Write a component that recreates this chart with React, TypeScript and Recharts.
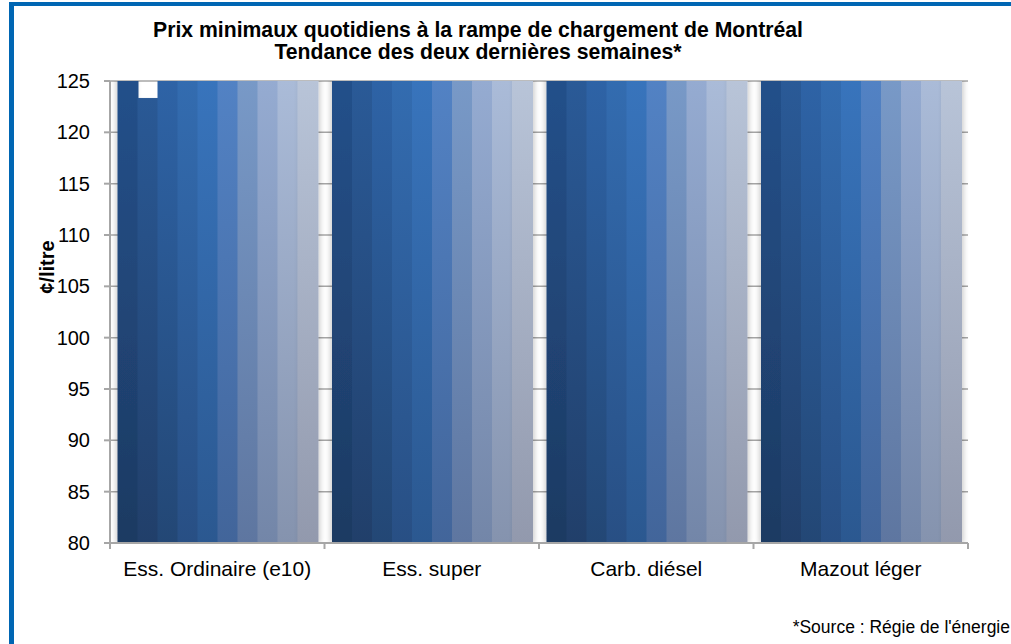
import React from "react";
import { BarChart, Bar, XAxis, YAxis, CartesianGrid } from "recharts";

const categories = ["Ess. Ordinaire (e10)", "Ess. super", "Carb. diésel", "Mazout léger"];
const days = ["Jour 1", "Jour 2", "Jour 3", "Jour 4", "Jour 5", "Jour 6", "Jour 7", "Jour 8", "Jour 9", "Jour 10"];

// prices in ¢/litre, most of them run past the top of the axis
const essOrdinaire = [128.4, 123.3, 127.9, 128.6, 129.1, 128.2, 127.5, 128.8, 129.3, 128.9];
const essSuper = [141.2, 140.1, 140.8, 141.5, 142.0, 141.1, 140.4, 141.7, 142.2, 141.8];
const carbDiesel = [136.5, 135.8, 136.1, 136.9, 137.4, 136.6, 135.9, 137.0, 137.6, 137.2];
const mazoutLeger = [133.1, 132.4, 132.8, 133.5, 134.0, 133.2, 132.6, 133.7, 134.2, 133.9];

const yTicks = [80, 85, 90, 95, 100, 105, 110, 115, 120, 125];

const topColors = ["#24508a", "#2a5a97", "#2e63a6", "#336cb0", "#3874bc", "#5282c4", "#7899c7", "#95abd1", "#aabbd8", "#b8c4d8"];
const bottomColors = ["#1d3a62", "#213f6a", "#234775", "#284f84", "#2b5890", "#42659a", "#5e76a0", "#7386a8", "#8593ae", "#9299ad"];

const byCategory = [essOrdinaire, essSuper, carbDiesel, mazoutLeger];
const data = categories.map((name, i) => {
  const row: Record<string, string | number> = { name };
  days.forEach((_, d) => {
    row[`d${d}`] = byCategory[i][d];
  });
  return row;
});

const W = 1011;
const H = 644;
const PLOT_LEFT = 110;
const PLOT_RIGHT = 968;
const PLOT_TOP = 81;
const PLOT_BOTTOM = 543;
const BAND = (PLOT_RIGHT - PLOT_LEFT) / categories.length;
const FONT = "'Liberation Sans', Arial, sans-serif";
const AXIS = "#a6a6a6";

const XTick = (props: any) => {
  const { x, y, payload, index } = props;
  const half = BAND / 2;
  return (
    <g>
      <line x1={x + half} x2={x + half} y1={y} y2={y + 6} stroke={AXIS} strokeWidth={2} />
      {index === 0 && <line x1={x - half} x2={x - half} y1={y} y2={y + 6} stroke={AXIS} strokeWidth={2} />}
      <text x={x} y={y + 33} textAnchor="middle" fontSize={21} fill="#000" fontFamily={FONT}>
        {payload.value}
      </text>
    </g>
  );
};

export default function App() {
  return (
    <div style={{ position: "absolute", left: 0, top: 0, width: W, height: H, background: "#fff" }}>
      <BarChart
        width={W}
        height={H}
        data={data}
        margin={{ top: PLOT_TOP, right: W - PLOT_RIGHT, bottom: H - PLOT_BOTTOM - 60, left: 0 }}
        barCategoryGap={8}
        barGap={0}
        style={{ fontFamily: FONT }}
      >
        <defs>
          {days.map((_, i) => (
            <linearGradient key={i} id={`g${i}`} gradientUnits="userSpaceOnUse" x1={0} y1={PLOT_TOP} x2={0} y2={PLOT_BOTTOM}>
              <stop offset="0%" stopColor={topColors[i]} />
              <stop offset="100%" stopColor={bottomColors[i]} />
            </linearGradient>
          ))}
          <filter id="shL" x="-50%" y="-5%" width="200%" height="110%">
            <feDropShadow dx={-2} dy={0} stdDeviation={2.5} floodColor="#000" floodOpacity={0.18} />
          </filter>
          <filter id="shR" x="-50%" y="-5%" width="200%" height="110%">
            <feDropShadow dx={2} dy={0} stdDeviation={2.5} floodColor="#000" floodOpacity={0.18} />
          </filter>
        </defs>
        <CartesianGrid vertical={false} stroke={AXIS} strokeWidth={1.5} />
        <XAxis
          dataKey="name"
          height={60}
          tickSize={0}
          tickMargin={0}
          tickLine={false}
          axisLine={{ stroke: AXIS, strokeWidth: 2 }}
          tick={<XTick />}
          interval={0}
        />
        <YAxis
          width={PLOT_LEFT}
          domain={[80, 125]}
          ticks={yTicks}
          allowDataOverflow
          tickSize={6}
          tickMargin={14}
          tickLine={{ stroke: AXIS, strokeWidth: 2 }}
          axisLine={{ stroke: AXIS, strokeWidth: 2 }}
          tick={{ fontSize: 20, fill: "#000" }}
        />
        {days.map((day, i) => (
          <Bar
            key={day}
            dataKey={`d${i}`}
            name={day}
            fill={`url(#g${i})`}
            stroke={`url(#g${i})`}
            strokeWidth={1}
            filter={i === 0 ? "url(#shL)" : i === days.length - 1 ? "url(#shR)" : undefined}
            isAnimationActive={false}
          />
        ))}
      </BarChart>
      <svg width={W} height={H} style={{ position: "absolute", left: 0, top: 0, pointerEvents: "none" }} fontFamily={FONT}>
        <rect x={9} y={2} width={W - 9} height={4} fill="#0066b3" />
        <rect x={9} y={2} width={5} height={H - 2} fill="#0066b3" />
        <text x={478} y={37} textAnchor="middle" fontSize={21.2} fontWeight="bold" fill="#000">
          Prix minimaux quotidiens à la rampe de chargement de Montréal
        </text>
        <text x={478} y={59} textAnchor="middle" fontSize={21.2} fontWeight="bold" fill="#000">
          Tendance des deux dernières semaines*
        </text>
        <text transform="translate(47,267) rotate(-90)" textAnchor="middle" dominantBaseline="central" fontSize={20} fontWeight="bold" fill="#000">
          ¢/litre
        </text>
        <text x={1010} y={633} textAnchor="end" fontSize={17.5} fill="#000">
          *Source : Régie de l'énergie
        </text>
      </svg>
    </div>
  );
}
